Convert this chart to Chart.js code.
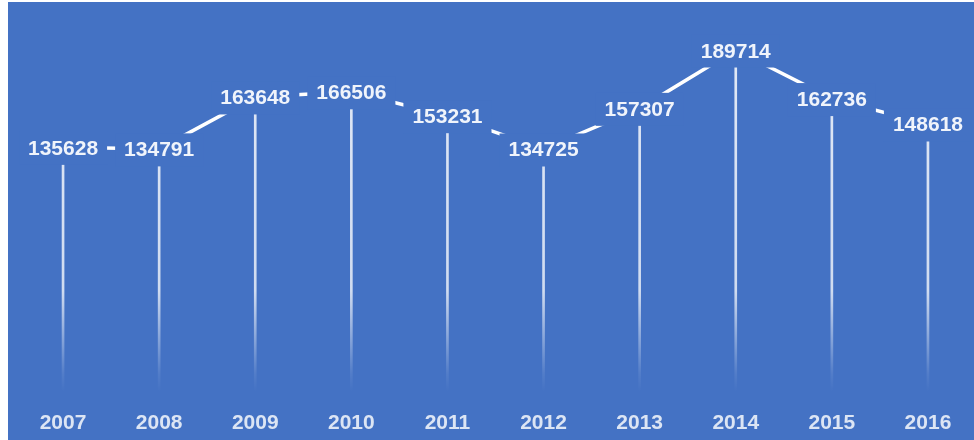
<!DOCTYPE html>
<html><head><meta charset="utf-8">
<script src="https://cdn.jsdelivr.net/npm/chart.js@4.4.0/dist/chart.umd.min.js"></script>
<style>
html,body{margin:0;padding:0;background:#fff;overflow:hidden;width:974px;height:440px;}
#wrap{position:absolute;left:0;top:0;width:976px;height:440px;}
</style></head><body>
<div id="wrap"><canvas id="c"></canvas></div>
<script>
const categories = ['2007','2008','2009','2010','2011','2012','2013','2014','2015','2016'];
const values = [135628,134791,163648,166506,153231,134725,157307,189714,162736,148618];
const yMin = 0;
const yMax = 200000;

const BG = '#4472C4';
const LABEL_FONT = 'bold 21px "Liberation Sans", Arial, sans-serif';

const bgPlugin = {
  id: 'bg',
  beforeDraw(chart) {
    const ctx = chart.ctx;
    ctx.save();
    ctx.fillStyle = '#ffffff';
    ctx.fillRect(0, 0, chart.width, chart.height);
    ctx.fillStyle = BG;
    ctx.fillRect(8, 2, chart.width - 8, chart.height - 2);
    ctx.restore();
  }
};

const labelPlugin = {
  id: 'valueLabels',
  afterDatasetsDraw(chart) {
    const meta = chart.getDatasetMeta(1);
    const ctx = chart.ctx;
    ctx.save();
    ctx.font = LABEL_FONT;
    meta.data.forEach((pt, i) => {
      const txt = String(values[i]);
      const w = ctx.measureText(txt).width;
      const capH = 15;
      const x = pt.x, y = pt.y;
      ctx.fillStyle = BG;
      ctx.fillRect(x - w / 2 - 9, y - capH / 2 - 8, w + 18, capH + 8 + 10);
      ctx.fillStyle = '#f0f4fb';
      ctx.textAlign = 'center';
      ctx.textBaseline = 'alphabetic';
      ctx.fillText(txt, x, y + capH / 2);
    });
    ctx.restore();
  }
};

new Chart(document.getElementById('c'), {
  data: {
    labels: categories,
    datasets: [
      {
        type: 'bar',
        data: values,
        barThickness: 2,
        borderWidth: 0,
        order: 2,
        backgroundColor(ctx) {
          const area = ctx.chart.chartArea;
          if (!area) return 'rgba(255,255,255,0.8)';
          const g = ctx.chart.ctx.createLinearGradient(0, area.top, 0, area.bottom);
          g.addColorStop(0, 'rgba(255,255,255,0.85)');
          g.addColorStop(0.72, 'rgba(255,255,255,0.75)');
          g.addColorStop(0.95, 'rgba(255,255,255,0.08)');
          g.addColorStop(1, 'rgba(255,255,255,0)');
          return g;
        }
      },
      {
        type: 'line',
        data: values,
        borderColor: '#ffffff',
        borderWidth: 3.5,
        pointRadius: 0,
        tension: 0,
        order: 1
      }
    ]
  },
  options: {
    responsive: true,
    maintainAspectRatio: false,
    animation: false,
    devicePixelRatio: 1,
    layout: { padding: { left: 15, right: 0, top: 31.5, bottom: 0 } },
    plugins: { legend: { display: false }, tooltip: { enabled: false } },
    scales: {
      x: {
        offset: true,
        grid: { display: false, drawTicks: false },
        border: { display: false },
        ticks: {
          color: '#dce5f4',
          padding: 19,
          maxRotation: 0,
          autoSkip: false,
          font: { family: '"Liberation Sans", Arial, sans-serif', size: 21, weight: 'bold' }
        },
        afterFit(scale) { scale.height = 48.5; }
      },
      y: {
        display: false,
        min: yMin,
        max: yMax
      }
    }
  },
  plugins: [bgPlugin, labelPlugin]
});
</script>
</body></html>
